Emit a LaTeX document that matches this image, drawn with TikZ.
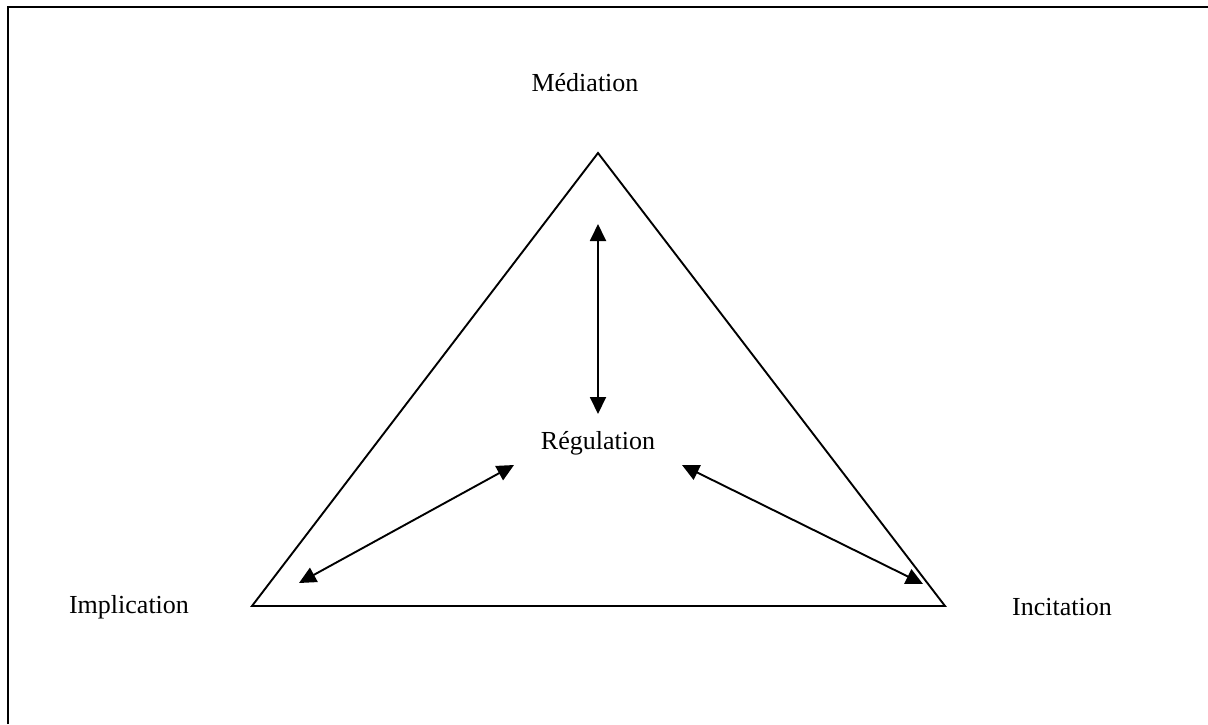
\documentclass[tikz,border=0pt]{standalone}
\usepackage{fontspec}
\setmainfont{Liberation Serif}
\usetikzlibrary{arrows.meta}
\begin{document}
\begin{tikzpicture}[x=1pt,y=-1pt,
  lbl/.style={font=\fontsize{26}{30}\selectfont, inner sep=0pt},
  edge/.style={line width=1.9pt, line join=miter},
  dbl/.style={line width=1.9pt, {Triangle[length=17pt,width=16pt]}-{Triangle[length=17pt,width=16pt]}}]
\useasboundingbox (0,0) rectangle (1208,724);
\fill[white] (0,0) rectangle (1208,724);
% frame (top and left only)
\draw[line width=2.4pt] (8,724) -- (8,7) -- (1208,7);
% triangle
\coordinate (top) at (598,153);
\coordinate (bl) at (252,606);
\coordinate (br) at (945,606);
\draw[edge] (top) -- (br) -- (bl) -- cycle;
% labels
\node[lbl] (med) at (585,83) {Médiation};
\node[lbl] (reg) at (598,443) {Régulation};
\node[lbl] (imp) at (129,607) {Implication};
\node[lbl] (inc) at (1062,607) {Incitation};
% arrow ends
\coordinate (v1) at (598,224);
\coordinate (v2) at (598,414);
\coordinate (l1) at (299,583);
\coordinate (l2) at (514,465);
\coordinate (r1) at (682,465);
\coordinate (r2) at (923,584);
\draw[dbl] (v1) -- (v2);
\draw[dbl] (l1) -- (l2);
\draw[dbl] (r1) -- (r2);
\end{tikzpicture}
\end{document}
